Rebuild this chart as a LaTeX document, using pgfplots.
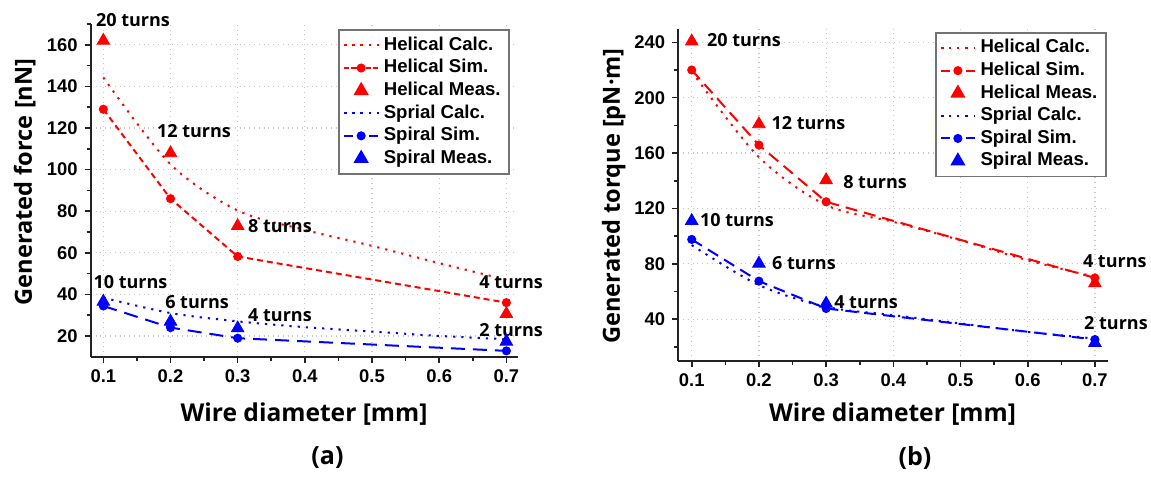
\documentclass[border=0pt]{standalone}
\usepackage{fontspec}
\setmainfont{Liberation Sans}
\newfontfamily\labfont{Open Sans}
\usepackage{pgfplots}
\pgfplotsset{compat=1.18}
\definecolor{HRed}{HTML}{FF0000}
\definecolor{SBlue}{HTML}{0000FF}
\definecolor{GridC}{HTML}{C8C8C8}
\definecolor{AxC}{HTML}{222222}

\tikzset{anno/.style={font=\labfont\bfseries\fontsize{9}{10}\selectfont,inner sep=0pt}}
\pgfplotsset{
  panel/.style={
    scale only axis, clip=false,
    axis x line*=bottom, axis y line*=left,
    axis line style={line width=0.9pt,draw=AxC},
    tick align=outside, major tick length=3pt, minor tick length=2pt,
    tick style={line width=0.8pt,draw=AxC},
    xtick={0.1,0.2,0.3,0.4,0.5,0.6,0.7},
    minor xtick={0.15,0.25,0.35,0.45,0.55,0.65},
    grid=major, grid style={dotted,GridC,line width=0.6pt},
    ticklabel style={font=\bfseries\fontsize{9.2}{10}\selectfont},
    /pgf/number format/assume math mode=true,
    xticklabel style={/pgf/number format/fixed,/pgf/number format/precision=1},
    xlabel style={font=\labfont\bfseries\fontsize{12.3}{14}\selectfont},
    ylabel style={font=\labfont\bfseries\fontsize{11.8}{14}\selectfont},
    legend style={font=\bfseries\fontsize{9.3}{11}\selectfont,draw=black!55,line width=0.8pt,
      anchor=north west,inner sep=2pt,row sep=0pt,
      nodes={text height=6.8pt,text depth=1.9pt,inner ysep=1.3pt,inner xsep=2.3pt}},
    legend cell align=left,
  },
  calcH/.style={HRed,line width=1pt,dash pattern=on 1.1pt off 3pt,smooth,no marks},
  calcS/.style={SBlue,line width=1pt,dash pattern=on 1.1pt off 3pt,smooth,no marks},
  meas/.style={only marks,mark=triangle*,mark size=3.6pt},
  shortleg/.style={legend image code/.code={
    \draw[##1,solid] (0cm,0cm)--(0.09cm,0cm) (0.13cm,0cm)--(0.22cm,0cm)
      (0.38cm,0cm)--(0.47cm,0cm) (0.51cm,0cm)--(0.6cm,0cm);
    \draw[##1,solid] plot coordinates {(0.3cm,0cm)};}},
  longleg/.style={legend image code/.code={
    \draw[##1,solid] (0cm,0cm)--(0.16cm,0cm) (0.44cm,0cm)--(0.6cm,0cm);
    \draw[##1,solid] plot coordinates {(0.3cm,0cm)};}},
}

\begin{document}
\begin{tikzpicture}
\useasboundingbox (0,0) rectangle (575.5pt,238.5pt);

% (a) force
\begin{axis}[panel,
  at={(45.35pt,60.15pt)},anchor=south west,
  width=213.55pt,height=166.35pt,
  xmin=0.0812,xmax=0.717,ymin=10,ymax=170,
  ytick={20,40,60,80,100,120,140,160},
  minor ytick={30,50,70,90,110,130,150,170},
  xlabel={Wire diameter [mm]},
  ylabel={Generated force [nN]},
  xlabel style={at={(axis description cs:0.4994,-0.172)},anchor=center},
  ylabel style={at={(axis description cs:-0.1545,0.525)},anchor=center},
  legend style={at={(axis description cs:0.5797,0.984)}},
]
\addplot[calcH] coordinates {(0.1,144.3)(0.2,102.5)(0.3,80.3)(0.4,71)(0.5,63.3)(0.6,55)(0.7,47)};
\addplot[HRed,line width=1pt,dash pattern=on 3pt off 2pt,mark=*,mark size=1.75pt,mark options={solid},shortleg]
  coordinates {(0.1,129)(0.2,86)(0.3,58.2)(0.7,36)};
\addplot[meas,HRed] coordinates {(0.1,162)(0.2,107.9)(0.3,72.9)(0.7,30.6)};
\addplot[calcS] coordinates {(0.1,38.4)(0.2,31)(0.3,27)(0.4,24.2)(0.5,22.1)(0.6,20)(0.7,18.4)};
\addplot[SBlue,line width=1pt,dash pattern=on 7pt off 4pt,mark=*,mark size=1.75pt,mark options={solid},longleg]
  coordinates {(0.1,34.4)(0.2,24)(0.3,18.9)(0.7,12.8)};
\addplot[meas,SBlue] coordinates {(0.1,36.5)(0.2,26.9)(0.3,23.7)(0.7,17.3)};
\legend{Helical Calc.,Helical Sim.,Helical Meas.,Sprial Calc.,Spiral Sim.,Spiral Meas.}
\node[anno] at (axis cs:0.1442,172) {20 turns};
\node[anno] at (axis cs:0.235,118.6) {12 turns};
\node[anno] at (axis cs:0.363,72.6) {8 turns};
\node[anno] at (axis cs:0.707,45.7) {4 turns};
\node[anno] at (axis cs:0.1405,45.7) {10 turns};
\node[anno] at (axis cs:0.2395,36.5) {6 turns};
\node[anno] at (axis cs:0.363,29.8) {4 turns};
\node[anno] at (axis cs:0.707,22.9) {2 turns};
\end{axis}

% (b) torque
\begin{axis}[panel,
  at={(339.1pt,58.15pt)},anchor=south west,
  width=214.9pt,height=165.7pt,
  xmin=0.0799,xmax=0.7195,ymin=10,ymax=249.4,
  ytick={40,80,120,160,200,240},
  minor ytick={20,60,100,140,180,220},
  xlabel={Wire diameter [mm]},
  ylabel={Generated torque [pN·m]},
  xlabel style={at={(axis description cs:0.4986,-0.161)},anchor=center},
  ylabel style={at={(axis description cs:-0.150,0.497)},anchor=center},
  legend style={at={(axis description cs:0.5975,0.992)}},
]
\addplot[calcH] coordinates {(0.1,218.8)(0.2,157)(0.3,122.4)(0.4,110.3)(0.5,97)(0.6,82.5)(0.7,70.6)};
\addplot[HRed,line width=1pt,dash pattern=on 6pt off 3.5pt,mark=*,mark size=1.75pt,mark options={solid},longleg]
  coordinates {(0.1,220)(0.2,165.8)(0.3,124.8)(0.7,69.8)};
\addplot[meas,HRed] coordinates {(0.1,240.7)(0.2,180.9)(0.3,140.5)(0.7,66)};
\addplot[calcS] coordinates {(0.1,93.5)(0.2,64.6)(0.3,48.9)(0.4,42.9)(0.5,36.9)(0.6,30.8)(0.7,26)};
\addplot[SBlue,line width=1pt,dash pattern=on 6pt off 3.5pt,mark=*,mark size=1.75pt,mark options={solid},longleg]
  coordinates {(0.1,97.6)(0.2,67.5)(0.3,47.7)(0.7,25.3)};
\addplot[meas,SBlue] coordinates {(0.1,111)(0.2,80.2)(0.3,51.3)(0.7,22.9)};
\legend{Helical Calc.,Helical Sim.,Helical Meas.,Sprial Calc.,Spiral Sim.,Spiral Meas.}
\node[anno] at (axis cs:0.1778,241.7) {20 turns};
\node[anno] at (axis cs:0.2738,181.9) {12 turns};
\node[anno] at (axis cs:0.3728,139.2) {8 turns};
\node[anno] at (axis cs:0.7296,82.1) {4 turns};
\node[anno] at (axis cs:0.1674,111.6) {10 turns};
\node[anno] at (axis cs:0.2671,80.3) {6 turns};
\node[anno] at (axis cs:0.3594,52.5) {4 turns};
\node[anno] at (axis cs:0.7314,37.3) {2 turns};
\end{axis}

\node[font=\labfont\bfseries\fontsize{12.5}{14}\selectfont] at (163.75pt,9.5pt) {(a)};
\node[font=\labfont\bfseries\fontsize{12.5}{14}\selectfont] at (457.5pt,9.5pt) {(b)};
\end{tikzpicture}
\end{document}
